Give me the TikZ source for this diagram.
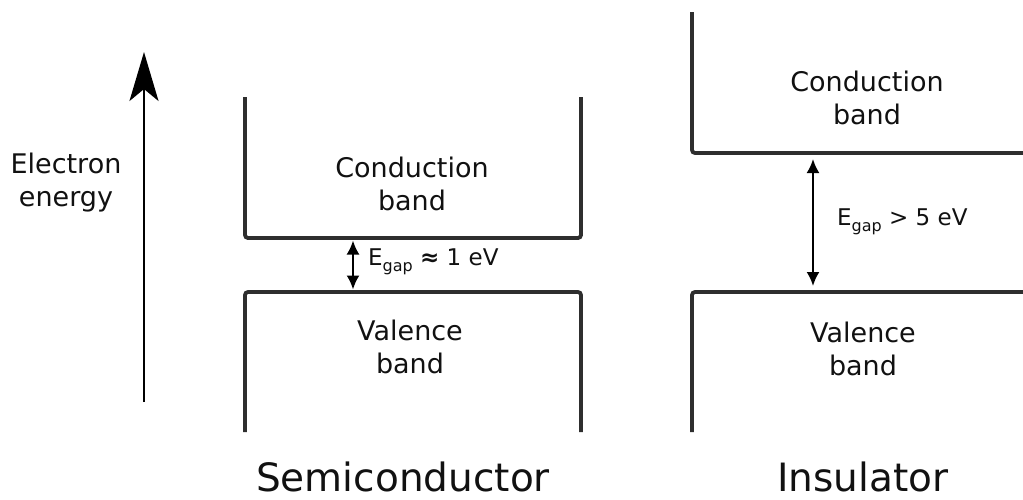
\documentclass[tikz,border=0pt]{standalone}
\usepackage{fontspec}
\setmainfont{DejaVu Sans}
\usetikzlibrary{arrows.meta}
\definecolor{bandgray}{HTML}{2E2E2E}
\definecolor{txt}{HTML}{111111}
\begin{document}
\begin{tikzpicture}[x=1pt,y=-1pt,
  band/.style={line width=3.8pt, draw=bandgray, rounded corners=3pt},
  lbl/.style={font=\fontsize{27}{33}\selectfont, align=center, inner sep=0pt, text=txt},
  title/.style={font=\fontsize{39}{45}\selectfont, inner sep=0pt, anchor=base, text=txt},
  gaplbl/.style={font=\fontsize{23}{27}\selectfont, inner sep=0pt, anchor=base west, text=txt},
  gaparrow/.style={line width=2.2pt, {Latex[length=14pt,width=13pt]}-{Latex[length=14pt,width=13pt]}},
  energyarrow/.style={line width=2.2pt, -{Stealth[length=49pt,width=29pt,inset=12pt]}}
]
\useasboundingbox (0,0) rectangle (1023,499);

% energy axis
\coordinate (eb) at (144,402);
\coordinate (et) at (144,52);
\draw[energyarrow] (eb) -- (et);
\node[lbl] (energy) at (66,183) {Electron\\energy};

% semiconductor bands
\draw[band] (245,97) -- (245,238) -- (581,238) -- (581,97);
\draw[band] (245,432) -- (245,292) -- (581,292) -- (581,432);
\node[lbl] (scond) at (412,184) {Conduction\\band};
\node[lbl] (sval) at (410,347) {Valence\\band};
\coordinate (sgt) at (353,238);
\coordinate (sgb) at (353,292);
\draw[gaparrow, shorten <=2.5pt, shorten >=2.5pt] (sgt) -- (sgb);
\node[gaplbl] (sgap) at (368,265) {E\raisebox{-0.3em}{\fontsize{16}{16}\selectfont gap} {\bfseries ≈} 1 eV};
\node[title] (semi) at (403,491) {Semiconductor};

% insulator bands
\draw[band] (692,12) -- (692,153) -- (1023,153);
\draw[band] (692,432) -- (692,292) -- (1023,292);
\node[lbl] (icond) at (867,98) {Conduction\\band};
\node[lbl] (ival) at (863,349) {Valence\\band};
\coordinate (igt) at (813,153);
\coordinate (igb) at (813,292);
\draw[gaparrow, shorten <=6pt, shorten >=6pt] (igt) -- (igb);
\node[gaplbl] (igap) at (837,225) {E\raisebox{-0.3em}{\fontsize{16}{16}\selectfont gap} > 5 eV};
\node[title] (ins) at (863,491) {Insulator};
\end{tikzpicture}
\end{document}
